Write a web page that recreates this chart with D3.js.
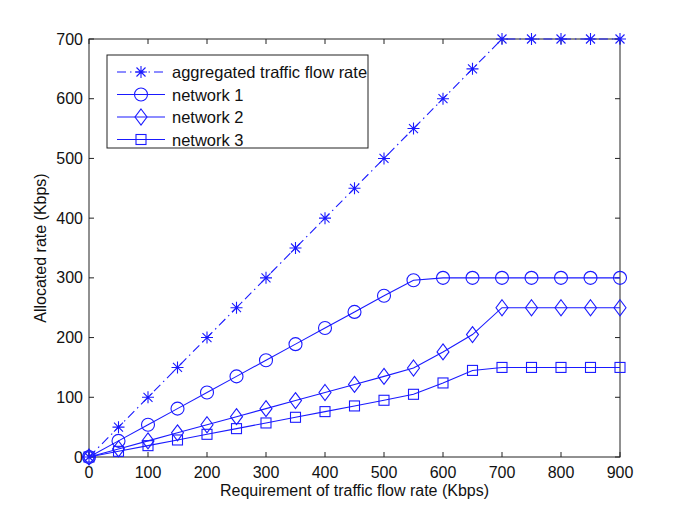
<!DOCTYPE html>
<html><head><meta charset="utf-8">
<script src="https://cdn.jsdelivr.net/npm/d3@7"></script>
<style>body{margin:0;background:#fff}svg{display:block}text{font-family:"Liberation Sans",Arial,Helvetica,sans-serif}</style>
</head><body>
<script>
const xValues = [0,50,100,150,200,250,300,350,400,450,500,550,600,650,700,750,800,850,900];
const aggregated = [0,50,100,150,200,250,300,350,400,450,500,550,600,650,700,700,700,700,700];
const network1 = [0,27,54,81,108,135,162,189,216,243,270,296,300,300,300,300,300,300,300];
const network2 = [0,13.5,27,40.5,54,67.5,81,94.5,108,121.5,135,149,176,205,250,250,250,250,250];
const network3 = [0,9.5,19,28.5,38,47.5,57,66.5,76,85.5,95,105,124,145,150,150,150,150,150];
const xTicks = [0,100,200,300,400,500,600,700,800,900];
const yTicks = [0,100,200,300,400,500,600,700];
const seriesNames = ["aggregated traffic flow rate","network 1","network 2","network 3"];
const seriesMarkers = ["star","circle","diamond","square"];
const seriesData = [aggregated, network1, network2, network3];

const W=685,H=515, L=89,R=620,T=39,B=457;
const blue="#1a1aff";
const svg=d3.select("body").append("svg").attr("width",W).attr("height",H);
const x=d3.scaleLinear().domain([0,900]).range([L,R]);
const y=d3.scaleLinear().domain([0,700]).range([B,T]);

// axes box
const ax=svg.append("g").attr("stroke","#222").attr("fill","none").attr("stroke-width",1);
ax.append("rect").attr("x",L).attr("y",T).attr("width",R-L).attr("height",B-T);
const tl=5;
xTicks.forEach(t=>{
  ax.append("line").attr("x1",x(t)).attr("x2",x(t)).attr("y1",B).attr("y2",B-tl);
  ax.append("line").attr("x1",x(t)).attr("x2",x(t)).attr("y1",T).attr("y2",T+tl);
});
yTicks.forEach(t=>{
  ax.append("line").attr("x1",L).attr("x2",L+tl).attr("y1",y(t)).attr("y2",y(t));
  ax.append("line").attr("x1",R).attr("x2",R-tl).attr("y1",y(t)).attr("y2",y(t));
});
const fs=16;
svg.append("g").selectAll("text").data(xTicks).join("text")
  .attr("x",d=>x(d)).attr("y",B+21).attr("text-anchor","middle").attr("font-size",fs).attr("fill","#111").text(d=>d);
svg.append("g").selectAll("text").data(yTicks).join("text")
  .attr("x",L-6).attr("y",d=>y(d)+5.5).attr("text-anchor","end").attr("font-size",fs).attr("fill","#111").text(d=>d);
svg.append("text").attr("x",(L+R)/2).attr("y",B+39).attr("text-anchor","middle").attr("font-size",fs).attr("fill","#111")
  .text("Requirement of traffic flow rate (Kbps)");
svg.append("text").attr("transform",`translate(46,${(T+B)/2}) rotate(-90)`).attr("text-anchor","middle").attr("font-size",fs).attr("fill","#111")
  .text("Allocated rate (Kbps)");

function marker(g,type,cx,cy){
  const m=g.append("g").attr("transform",`translate(${cx},${cy})`).attr("stroke",blue).attr("fill","none").attr("stroke-width",1.1);
  if(type==="circle") m.append("circle").attr("r",6.5);
  else if(type==="diamond") m.append("path").attr("d","M0,-8L6,0L0,8L-6,0Z");
  else if(type==="square") m.append("rect").attr("x",-5).attr("y",-5).attr("width",10).attr("height",10);
  else if(type==="star"){
    const r=6;
    m.append("path").attr("d",`M0,${-r}V${r}M${-r},0H${r}M${-r*0.75},${-r*0.75}L${r*0.75},${r*0.75}M${-r*0.75},${r*0.75}L${r*0.75},${-r*0.75}`);
  }
}
const line=d3.line().x(d=>x(d[0])).y(d=>y(d[1]));
const plot=svg.append("g");
seriesData.forEach((vals,i)=>{
  const pts=xValues.map((v,j)=>[v,vals[j]]);
  plot.append("path").attr("d",line(pts)).attr("fill","none").attr("stroke",blue).attr("stroke-width",1.1)
    .attr("stroke-dasharray",i===0?"9,4,1.5,4":null);
  pts.forEach(p=>marker(plot,seriesMarkers[i],x(p[0]),y(p[1])));
});

// legend
const lg=svg.append("g");
lg.append("rect").attr("x",107).attr("y",55).attr("width",261).attr("height",93).attr("fill","#fff").attr("stroke","#222").attr("stroke-width",1);
seriesNames.forEach((n,i)=>{
  const ly=72+i*22.5;
  lg.append("line").attr("x1",117).attr("x2",165).attr("y1",ly).attr("y2",ly).attr("stroke",blue).attr("stroke-width",1.1)
    .attr("stroke-dasharray",i===0?"9,4,1.5,4":null);
  marker(lg,seriesMarkers[i],141,ly);
  lg.append("text").attr("x",172).attr("y",ly+6).attr("font-size",16.5).attr("fill","#111").text(n);
});
</script>
</body></html>
